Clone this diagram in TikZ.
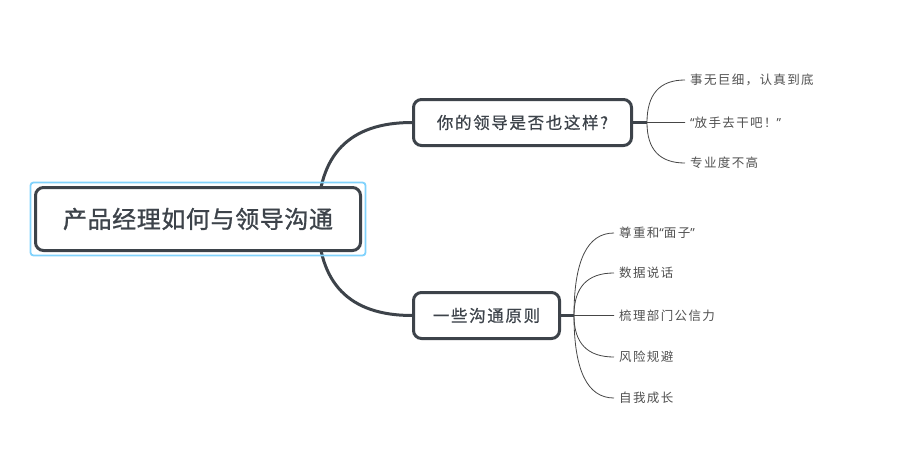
\documentclass[tikz,border=0pt]{standalone}
\usepackage{fontspec}
\setmainfont{Noto Sans CJK SC}
\newfontfamily\rootfont[LetterSpace=2.5,FakeBold=1]{Noto Sans CJK SC}
\newfontfamily\branchfont[LetterSpace=10,FakeBold=0.6]{Noto Sans CJK SC}
\newfontfamily\leaffont[LetterSpace=11]{Noto Sans CJK SC}
\newfontfamily\qfont{Noto Sans}
\newcommand{\myLq}{{\qfont “}}
\newcommand{\myRq}{{\qfont ”}}
\usetikzlibrary{backgrounds,calc}
\definecolor{dark}{RGB}{61,67,74}
\definecolor{sel}{RGB}{128,210,252}
\definecolor{thin}{RGB}{70,70,70}
\definecolor{ctext}{RGB}{80,80,80}
\begin{document}
\begin{tikzpicture}[x=1pt,y=-1pt,
  topic/.style={draw=dark, line width=3pt, rounded corners=8pt, fill=white, text=dark, inner sep=0pt},
  leaf/.style={anchor=west, inner xsep=5pt, inner ysep=0pt, text=ctext, font=\leaffont\fontsize{12.5}{14}\selectfont},
  branch/.style={draw=dark, line width=3pt},
  twig/.style={draw=thin, line width=0.8pt}]
\useasboundingbox (0,0) rectangle (898,463);
\node[topic, minimum width=325pt, minimum height=63pt, font=\rootfont\fontsize{24}{28}\selectfont] (root) at (198,219) {产品经理如何与领导沟通};
\draw[sel, line width=1.8pt, rounded corners=3pt] ([shift={(-3.5,-3.5)}]root.north west) rectangle ([shift={(3.5,3.5)}]root.south east);
\node[topic, minimum width=218pt, minimum height=46pt, font=\branchfont\fontsize{16.5}{20}\selectfont] (b1) at (522.5,122.5) {你的领导是否也这样?};
\node[topic, minimum width=146pt, minimum height=46pt, font=\branchfont\fontsize{16.5}{20}\selectfont] (b2) at (486.5,315.5) {一些沟通原则};
\coordinate (j1) at (647,122.5);
\coordinate (j2) at (574,315.5);
\coordinate (s) at ([xshift=120pt]root.center);
\node[leaf] (l11) at (685,80) {事无巨细，认真到底};
\node[leaf] (l12) at (685,122.5) {\myLq 放手去干吧！\myRq};
\node[leaf] (l13) at (685,163) {专业度不高};
\node[leaf] (l21) at (614,233) {尊重和\myLq 面子\myRq};
\node[leaf] (l22) at (614,273) {数据说话};
\node[leaf] (l23) at (614,315.5) {梳理部门公信力};
\node[leaf] (l24) at (614,357) {风险规避};
\node[leaf] (l25) at (614,398) {自我成长};
\begin{pgfonlayer}{background}
\foreach \b in {b1,b2}
  \draw[branch] (s) .. controls ($(s)!0.667!(s |- \b.west)$) and ($(\b.west)!0.667!(s |- \b.west)$) .. (\b.west);
\draw[branch] (b1.east) -- (j1);
\draw[branch] (b2.east) -- (j2);
\foreach \l in {l11,l12,l13}
  \draw[twig] (j1) .. controls ($(j1)!0.667!(j1 |- \l.west)$) and ($(\l.west)!0.667!(j1 |- \l.west)$) .. (\l.west);
\foreach \l in {l21,l22,l23,l24,l25}
  \draw[twig] (j2) .. controls ($(j2)!0.667!(j2 |- \l.west)$) and ($(\l.west)!0.667!(j2 |- \l.west)$) .. (\l.west);
\end{pgfonlayer}
\end{tikzpicture}
\end{document}
